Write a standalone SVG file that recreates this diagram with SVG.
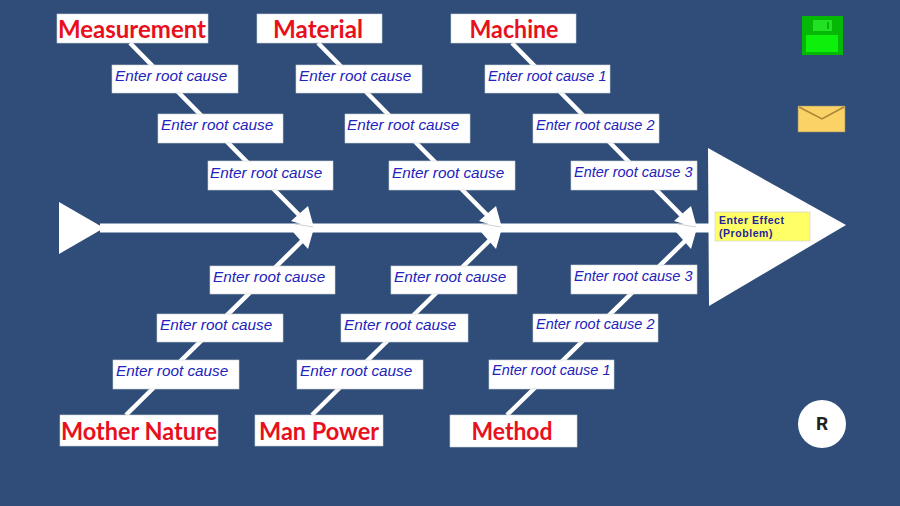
<svg xmlns="http://www.w3.org/2000/svg" width="900" height="506" viewBox="0 0 900 506">
<defs>
<style>
.b{fill:#fff;stroke:#cfd4da;stroke-width:.6}
.c{font:italic 15.3px "Liberation Sans",Arial,sans-serif;fill:#2222bc}
.n{font-size:14.5px}
.h{font:bold 24px Lato,"Noto Sans",sans-serif;fill:#e8101c;text-anchor:middle}
.l{stroke:#fff;stroke-width:4.5;fill:none}
.a{fill:#fff}
.e{font:bold 10.5px "Liberation Sans",Arial,sans-serif;fill:#24249c;letter-spacing:.55px}
.g{stroke:#b8bcc4;stroke-width:.7;fill:none}
</style>
</defs>
<rect width="900" height="506" fill="#2f4d78"/>
<g id="connectors">
<path class="l" d="M100 228H712" style="stroke-width:9"/>
<path class="l" d="M130 43L302 218M318 43L490 218M512 43L684 218"/>
<path class="l" d="M126 415L303 240M312 415L490 240M507 415L686 240"/>
<path class="a" d="M314 228L291 221L308 206ZM314 228L293 232L308 249ZM502 228L479 221L496 206ZM502 228L481 232L496 249ZM697 228L674 221L691 206ZM697 228L676 232L691 249Z"/>
<path class="g" d="M295 224L313 227M483 224L501 227M678 224L696 227"/>
</g>
<g id="tail"><path class="a" d="M59 202L104 228L59 254Z"/></g>
<g id="head"><path class="a" d="M708 148L846 225L709 306Z"/></g>
<g id="effect"><rect x="715" y="212" width="95" height="29" fill="#ffff66" stroke="#ccc" stroke-width=".6"/>
<text class="e" x="719" y="224">Enter Effect</text>
<text class="e" x="719" y="237">(Problem)</text></g>
<g id="h1"><rect class="b" x="57" y="14" width="151" height="29"/><text class="h" x="132" y="38" textLength="148" lengthAdjust="spacingAndGlyphs">Measurement</text></g>
<g id="h2"><rect class="b" x="257" y="14" width="125" height="29"/><text class="h" x="318" y="38" textLength="90" lengthAdjust="spacingAndGlyphs">Material</text></g>
<g id="h3"><rect class="b" x="451" y="14" width="125" height="29"/><text class="h" x="514" y="38" textLength="89" lengthAdjust="spacingAndGlyphs">Machine</text></g>
<g id="h4"><rect class="b" x="60" y="415" width="158" height="31"/><text class="h" x="139" y="440" textLength="156" lengthAdjust="spacingAndGlyphs">Mother Nature</text></g>
<g id="h5"><rect class="b" x="255" y="415" width="128" height="31"/><text class="h" x="319" y="440" textLength="120" lengthAdjust="spacingAndGlyphs">Man Power</text></g>
<g id="h6"><rect class="b" x="450" y="415" width="127" height="32"/><text class="h" x="512" y="440" textLength="81" lengthAdjust="spacingAndGlyphs">Method</text></g>
<g id="c1"><rect class="b" x="112" y="65" width="126" height="28"/><text class="c" x="115" y="81">Enter root cause</text></g>
<g id="c2"><rect class="b" x="158" y="114" width="125" height="29"/><text class="c" x="161" y="130">Enter root cause</text></g>
<g id="c3"><rect class="b" x="208" y="161" width="125" height="29"/><text class="c" x="210" y="178">Enter root cause</text></g>
<g id="c4"><rect class="b" x="296" y="65" width="126" height="28"/><text class="c" x="299" y="81">Enter root cause</text></g>
<g id="c5"><rect class="b" x="345" y="114" width="125" height="29"/><text class="c" x="347" y="130">Enter root cause</text></g>
<g id="c6"><rect class="b" x="389" y="161" width="126" height="29"/><text class="c" x="392" y="178">Enter root cause</text></g>
<g id="c7"><rect class="b" x="485" y="65" width="125" height="28"/><text class="c n" x="488" y="81">Enter root cause 1</text></g>
<g id="c8"><rect class="b" x="533" y="114" width="126" height="29"/><text class="c n" x="536" y="130">Enter root cause 2</text></g>
<g id="c9"><rect class="b" x="571" y="161" width="126" height="29"/><text class="c n" x="574" y="177">Enter root cause 3</text></g>
<g id="c10"><rect class="b" x="210" y="266" width="125" height="28"/><text class="c" x="213" y="282">Enter root cause</text></g>
<g id="c11"><rect class="b" x="157" y="314" width="126" height="28"/><text class="c" x="160" y="330">Enter root cause</text></g>
<g id="c12"><rect class="b" x="113" y="360" width="126" height="29"/><text class="c" x="116" y="376">Enter root cause</text></g>
<g id="c13"><rect class="b" x="391" y="266" width="126" height="28"/><text class="c" x="394" y="282">Enter root cause</text></g>
<g id="c14"><rect class="b" x="341" y="314" width="127" height="28"/><text class="c" x="344" y="330">Enter root cause</text></g>
<g id="c15"><rect class="b" x="297" y="360" width="126" height="29"/><text class="c" x="300" y="376">Enter root cause</text></g>
<g id="c16"><rect class="b" x="571" y="265" width="126" height="29"/><text class="c n" x="574" y="281">Enter root cause 3</text></g>
<g id="c17"><rect class="b" x="533" y="314" width="125" height="28"/><text class="c n" x="536" y="329">Enter root cause 2</text></g>
<g id="c18"><rect class="b" x="489" y="360" width="125" height="29"/><text class="c n" x="492" y="375">Enter root cause 1</text></g>
<g id="save"><rect x="802" y="16" width="41" height="39" fill="#06b806"/><rect x="813" y="20" width="19" height="11" fill="#22e022"/><rect x="827" y="22" width="2" height="7" fill="#10b010"/><rect x="806" y="35" width="32" height="17" fill="#0cf00c"/></g>
<g id="mail"><rect x="798" y="106" width="47" height="26" fill="#fbd265" stroke="#8a8a70" stroke-width=".6"/><path d="M799 107L822 119L844 107" fill="none" stroke="#a9843a" stroke-width="1.5"/></g>
<g id="reset"><circle cx="822" cy="424" r="24" fill="#fff"/><text x="822" y="430" font-family="Roboto,sans-serif" font-size="19" font-weight="bold" fill="#222" text-anchor="middle">R</text></g>
</svg>
